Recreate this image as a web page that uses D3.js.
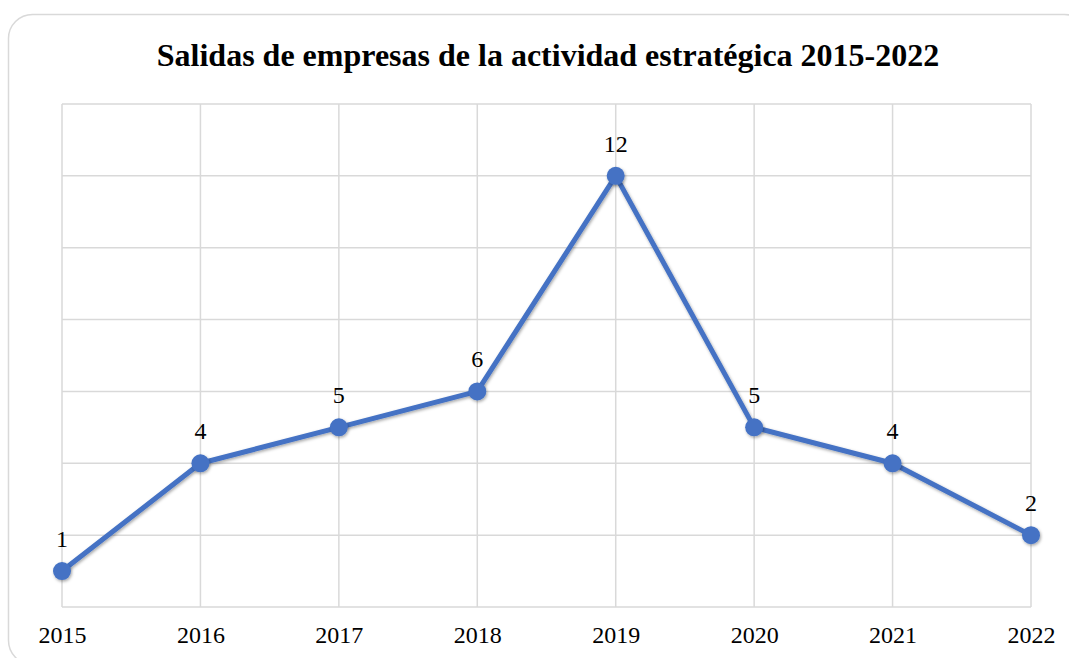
<!doctype html>
<html>
<head>
<meta charset="utf-8">
<title>Salidas de empresas</title>
<script src="https://d3js.org/d3.v7.min.js"></script>
<style>
  body { margin: 0; background: #fff; }
</style>
</head>
<body>
<div id="chart"></div>
<script>
// data
var years = ["2015", "2016", "2017", "2018", "2019", "2020", "2021", "2022"];
var salidas = [1, 4, 5, 6, 12, 5, 4, 2];
var yTicks = [0, 2, 4, 6, 8, 10, 12, 14];
var chartTitle = "Salidas de empresas de la actividad estratégica 2015-2022";

var serif = "'Liberation Serif', 'Times New Roman', Times, serif";
var W = 1069, H = 658;
var margin = {top: 104, right: 38, bottom: 51, left: 62};
var width = W - margin.left - margin.right,
    height = H - margin.top - margin.bottom;

var svg = d3.select("#chart").append("svg")
  .attr("width", W)
  .attr("height", H);

var defs = svg.append("defs");
var f = defs.append("filter").attr("id", "shadow")
  .attr("x", "-50%").attr("y", "-50%").attr("width", "200%").attr("height", "200%");
f.append("feDropShadow")
  .attr("dx", 1).attr("dy", 1.5).attr("stdDeviation", 1.5)
  .attr("flood-color", "#000").attr("flood-opacity", 0.35);

// outer rounded frame
svg.append("rect")
  .attr("x", 8.5).attr("y", 14.5)
  .attr("width", 1080).attr("height", 650)
  .attr("rx", 24).attr("ry", 24)
  .attr("fill", "#fff")
  .attr("stroke", "#d9d9d9")
  .attr("stroke-width", 1.5);

// title
svg.append("text")
  .attr("x", 548).attr("y", 66)
  .attr("text-anchor", "middle")
  .attr("font-family", serif)
  .attr("font-size", 32)
  .attr("font-weight", "bold")
  .attr("fill", "#000")
  .text(chartTitle);

var g = svg.append("g")
  .attr("transform", "translate(" + margin.left + "," + margin.top + ")");

var x = d3.scalePoint().domain(years).range([0, width]);
var y = d3.scaleLinear().domain([0, 14]).range([height, 0]);

// horizontal gridlines
g.selectAll(".hgrid")
  .data(yTicks)
  .enter().append("line")
  .attr("class", "hgrid")
  .attr("x1", 0).attr("x2", width)
  .attr("y1", function(d) { return y(d); })
  .attr("y2", function(d) { return y(d); })
  .attr("stroke", "#d9d9d9")
  .attr("stroke-width", 1.5);

// vertical gridlines
g.selectAll(".vgrid")
  .data(years)
  .enter().append("line")
  .attr("class", "vgrid")
  .attr("x1", function(d) { return x(d); })
  .attr("x2", function(d) { return x(d); })
  .attr("y1", 0).attr("y2", height)
  .attr("stroke", "#d9d9d9")
  .attr("stroke-width", 1.5);

// x axis labels
var xAxis = g.append("g")
  .attr("transform", "translate(0," + height + ")")
  .call(d3.axisBottom(x).tickSize(0).tickPadding(19));
xAxis.attr("font-family", serif).attr("font-size", 24);
xAxis.select(".domain").remove();
xAxis.selectAll("text").attr("fill", "#000");

var pts = years.map(function(d, i) { return {year: d, v: salidas[i]}; });

var line = d3.line()
  .x(function(d) { return x(d.year); })
  .y(function(d) { return y(d.v); });

g.append("path")
  .datum(pts)
  .attr("d", line)
  .attr("fill", "none")
  .attr("stroke", "#4472c4")
  .attr("stroke-width", 5)
  .attr("stroke-linejoin", "round")
  .attr("filter", "url(#shadow)");

g.selectAll(".dot")
  .data(pts)
  .enter().append("circle")
  .attr("class", "dot")
  .attr("cx", function(d) { return x(d.year); })
  .attr("cy", function(d) { return y(d.v); })
  .attr("r", 9)
  .attr("fill", "#4472c4")
  .attr("filter", "url(#shadow)");

// data labels
g.selectAll(".lbl")
  .data(pts)
  .enter().append("text")
  .attr("class", "lbl")
  .attr("x", function(d) { return x(d.year); })
  .attr("y", function(d) { return y(d.v) - 24; })
  .attr("text-anchor", "middle")
  .attr("font-family", serif)
  .attr("font-size", 24)
  .attr("fill", "#000")
  .text(function(d) { return d.v; });
</script>
</body>
</html>
